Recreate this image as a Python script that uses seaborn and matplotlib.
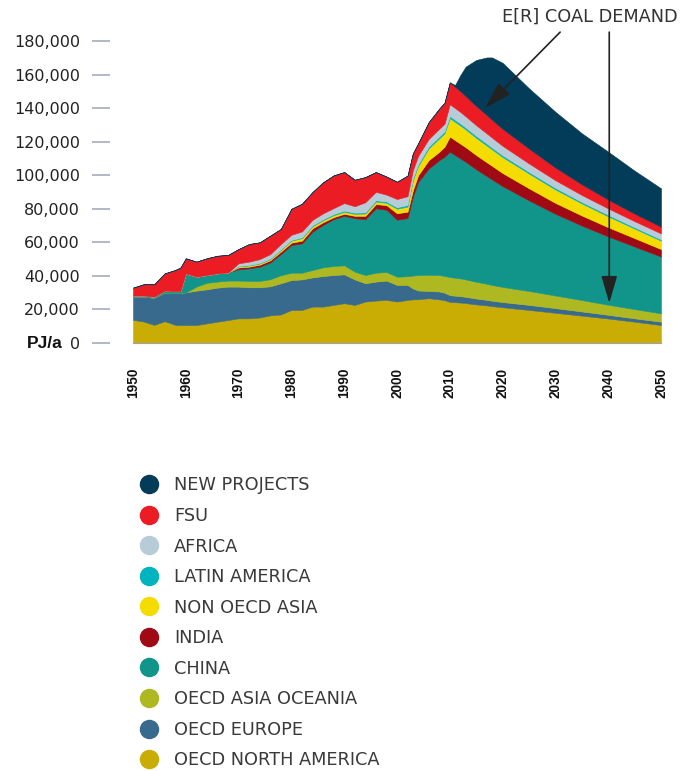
import matplotlib
matplotlib.use("Agg")
import matplotlib.pyplot as plt
import matplotlib.ticker as mticker
import matplotlib.transforms as mtransforms
from matplotlib.lines import Line2D
import numpy as np
import seaborn as sns

# ── Data (thousand PJ/a) ────────────────────────────────────────────────────
YEARS = [1950, 1952, 1954, 1956, 1958, 1959, 1960, 1962, 1964, 1966, 1968,
         1970, 1972, 1974, 1976, 1978, 1980, 1982, 1984, 1986, 1988, 1990,
         1992, 1994, 1996, 1998, 2000, 2002, 2003, 2004, 2006, 2008, 2009, 2010,
         2011, 2012, 2013, 2015, 2017, 2018, 2020, 2025, 2030, 2035, 2040, 2045, 2050]

OECD_NORTH_AMERICA = [13.8, 12.8, 10.8, 13.0, 10.8, 10.7, 10.7, 10.7, 11.7, 12.7, 13.7,
                      14.7, 14.7, 15.2, 16.5, 17.0, 19.7, 19.7, 21.7, 21.7, 22.7, 23.7,
                      22.7, 24.7, 25.3, 25.7, 24.7, 25.7, 26.0, 26.1, 26.7, 26.0, 25.5, 24.5,
                      24.3, 24.1, 23.8, 23.0, 22.4, 22.0, 21.3, 19.7, 18.0, 16.3, 14.6, 12.7, 10.7]
OECD_EUROPE = [13.7, 14.8, 16.2, 17.0, 19.0, 19.3, 19.5, 20.5, 20.3, 20.3, 19.9,
               18.9, 18.5, 18.0, 17.3, 18.6, 17.8, 18.2, 17.4, 18.2, 17.8, 17.2,
               15.2, 10.9, 11.3, 11.5, 9.9, 8.9, 6.5, 5.2, 4.3, 4.7, 4.5, 4.0,
               3.9, 3.8, 3.7, 3.5, 3.3, 3.2, 3.1, 3.0, 2.8, 2.5, 2.2, 2.0, 2.0]
OECD_ASIA_OCEANIA = [0, 0, 0, 0, 0, 0, 0, 2.4, 3.9, 3.6, 3.6,
                     3.6, 3.8, 3.8, 4.2, 4.8, 4.4, 4.0, 4.4, 5.2, 5.4, 5.4,
                     4.6, 4.9, 5.3, 5.1, 4.9, 5.2, 7.7, 9.2, 9.7, 9.8, 10.0, 10.8,
                     10.7, 10.6, 10.4, 10.0, 9.6, 9.4, 9.0, 8.3, 7.5, 6.8, 6.0, 5.5, 5.0]
CHINA = [0.7, 0.6, 0.6, 1.2, 1.0, 1.0, 11.3, 5.9, 4.6, 4.9, 4.8,
         6.8, 7.5, 8.5, 10.0, 12.6, 16.5, 17.5, 22.9, 25.3, 27.9, 29.5,
         31.9, 33.3, 38.4, 37.1, 34.0, 34.7, 46.8, 55.5, 63.3, 68.5, 71.0, 74.7,
         73.1, 71.5, 70.1, 67.0, 64.2, 62.9, 60.1, 54.0, 48.7, 44.4, 40.7, 37.3, 33.8]
INDIA = [0, 0, 0, 0, 0, 0, 0, 0, 0, 0, 0,
         1.0, 1.0, 1.2, 1.3, 1.5, 1.4, 1.6, 2.0, 1.6, 1.2, 1.2,
         1.4, 2.0, 2.5, 2.8, 3.8, 3.8, 4.0, 4.0, 5.0, 5.0, 6.0, 9.0,
         8.9, 8.8, 8.7, 8.5, 8.2, 8.1, 7.8, 7.2, 6.5, 6.0, 5.5, 5.0, 4.5]
NON_OECD_ASIA = [0, 0, 0, 0, 0, 0, 0, 0, 0, 0, 0,
                 0.6, 0.7, 0.7, 0.7, 1.0, 1.2, 1.5, 1.2, 1.2, 1.2, 1.2,
                 1.2, 1.4, 1.5, 1.4, 2.7, 3.0, 6.0, 5.5, 7.0, 8.0, 8.0, 11.0,
                 10.9, 10.8, 10.6, 10.3, 10.0, 9.8, 9.5, 8.8, 8.0, 7.2, 6.5, 5.7, 5.0]
LATIN_AMERICA = [0, 0, 0, 0, 0, 0, 0, 0, 0, 0, 0,
                 0.3, 0.3, 0.3, 0.4, 0.4, 0.4, 0.5, 0.6, 0.6, 0.7, 0.7,
                 0.7, 0.7, 0.8, 0.8, 0.9, 1.0, 1.0, 1.0, 1.1, 1.2, 1.2, 1.3,
                 1.3, 1.3, 1.2, 1.2, 1.2, 1.1, 1.1, 1.0, 1.0, 0.9, 0.9, 0.8, 0.8]
AFRICA = [0, 0, 0, 0, 0, 0, 0, 0, 0, 0, 0,
          1.6, 2.0, 2.3, 2.6, 3.1, 3.1, 3.5, 3.2, 3.5, 3.5, 4.5,
          3.8, 6.0, 5.0, 4.0, 4.9, 5.2, 5.0, 5.0, 4.5, 4.5, 4.5, 7.0,
          6.9, 6.8, 6.6, 6.3, 6.0, 5.9, 5.6, 5.0, 4.5, 4.1, 3.8, 3.6, 3.5]
FSU = [4.8, 6.8, 7.4, 10.3, 12.7, 14.0, 9.0, 9.0, 10.0, 10.5, 10.5,
       8.5, 10.5, 10.0, 11.0, 9.0, 15.5, 16.5, 16.6, 18.5, 19.5, 18.5,
       15.8, 15.0, 11.8, 10.8, 10.3, 12.3, 10.0, 7.5, 10.0, 12.0, 12.5, 13.0,
       12.7, 12.4, 12.1, 11.5, 11.0, 10.7, 10.2, 8.9, 7.6, 6.4, 5.3, 4.5, 4.0]
NEW_PROJECTS = [0] * 34 + [1.1, 9.6, 17.5, 27.4, 34.3, 37.1, 39.3, 35.9, 33.2, 30.4, 28.5, 25.6, 22.9]

# bottom -> top
LABELS = ["OECD NORTH AMERICA", "OECD EUROPE", "OECD ASIA OCEANIA", "CHINA", "INDIA",
          "NON OECD ASIA", "LATIN AMERICA", "AFRICA", "FSU", "NEW PROJECTS"]
SERIES = [OECD_NORTH_AMERICA, OECD_EUROPE, OECD_ASIA_OCEANIA, CHINA, INDIA,
          NON_OECD_ASIA, LATIN_AMERICA, AFRICA, FSU, NEW_PROJECTS]
COLORS = ["#c9ad05", "#376a8c", "#aeb820", "#11948a", "#a00a14",
          "#f5dc00", "#00b4bf", "#b8ccd8", "#ec1c25", "#023c58"]
X_TICKS = list(range(1950, 2051, 10))

# ── Style ───────────────────────────────────────────────────────────────────
sns.set_theme(style="white")
plt.rcParams["font.family"] = ["DejaVu Sans"]

fig = plt.figure(figsize=(6.84, 7.71), dpi=100)
ax = fig.add_axes([133 / 684, 1 - 343 / 771, 528 / 684, 302 / 771])

ax.stackplot(YEARS, *[np.array(s) * 1000 for s in SERIES], colors=COLORS,
             linewidth=0.4, edgecolor="face")

ax.set_xlim(1950, 2050)
ax.set_ylim(0, 180000)
ax.set_xticks(X_TICKS, labels=[str(y) for y in X_TICKS], rotation=90,
              fontsize=9.8, fontweight="bold", color="#111111",
              family=["Liberation Sans", "DejaVu Sans"])
ax.set_yticks(range(0, 180001, 20000))
ax.yaxis.set_major_formatter(mticker.FuncFormatter(lambda v, p: f"{int(v):,}"))

sns.despine(ax=ax, top=True, right=True, left=True)
ax.spines["left"].set_position(("outward", 16.6))
ax.spines["bottom"].set_color("#9aa3ad")
ax.spines["bottom"].set_linewidth(0.8)

ax.tick_params(axis="y", left=True, direction="out", length=13, width=1.2,
               color="#a3adbf", pad=8.6, labelsize=11.5, labelcolor="#222222")
ax.tick_params(axis="x", bottom=False, length=0, pad=18)

trans = mtransforms.blended_transform_factory(ax.transAxes, ax.transData)
ax.text(-0.1326, 0, "PJ/a", transform=trans, ha="right", va="center",
        fontsize=12.5, fontweight="bold", color="#111111",
        family=["Liberation Sans", "DejaVu Sans"])

# ── Annotation ──────────────────────────────────────────────────────────────
arrow = dict(arrowstyle="-|>,head_length=1.2,head_width=0.35", color="#222222",
             lw=1.2, mutation_scale=14, shrinkA=0, shrinkB=0)
ax.annotate("", xy=(2016.7, 140000), xytext=(2030.9, 185300),
            arrowprops=arrow, annotation_clip=False)
ax.annotate("", xy=(2040.2, 23800), xytext=(2040.2, 185300),
            arrowprops=arrow, annotation_clip=False)
ax.text(2053.2, 194200, "E[R] COAL DEMAND", ha="right", va="center",
        fontsize=12.8, color="#333333", clip_on=False)

# ── Legend (top of stack first) ─────────────────────────────────────────────
handles = [Line2D([], [], ls="", marker="o", markersize=13,
                  markerfacecolor=c, markeredgecolor=c)
           for c in COLORS[::-1]]
fig.legend(handles, LABELS[::-1], loc="upper left",
           bbox_to_anchor=(140 / 684, 1 - 476.5 / 771), bbox_transform=fig.transFigure,
           frameon=False, borderpad=0, borderaxespad=0, handlelength=1.0,
           handletextpad=0.9, labelspacing=0.705, fontsize=12.8, labelcolor="#3a3a3a")

fig.savefig("out.png", dpi=100)
